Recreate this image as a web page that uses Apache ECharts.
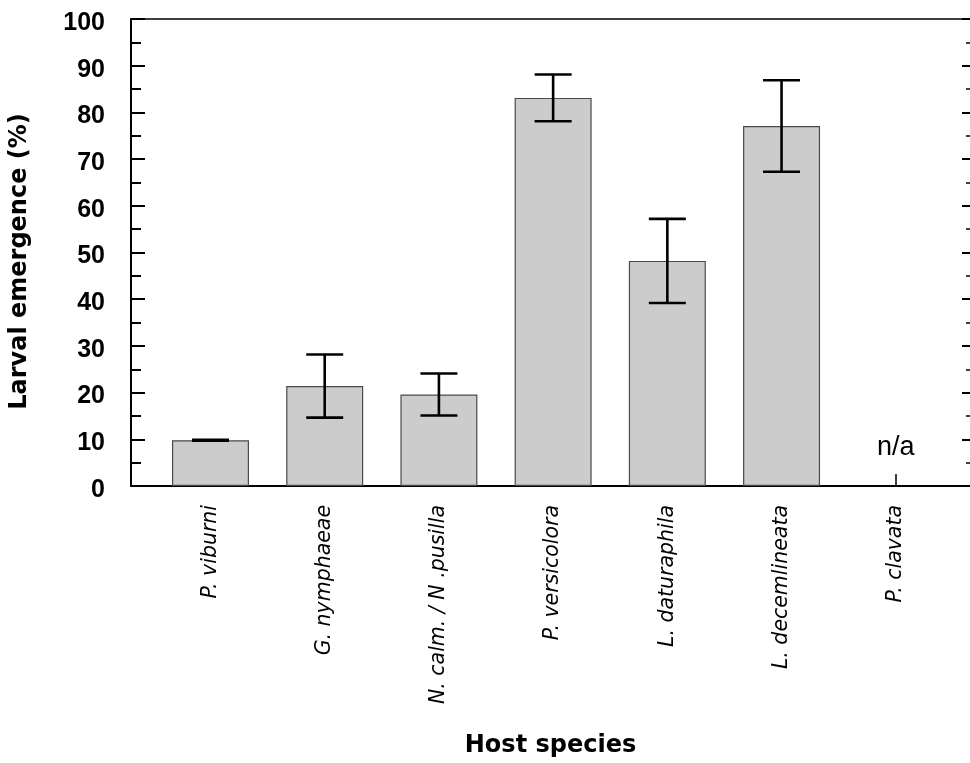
<!DOCTYPE html>
<html>
<head>
<meta charset="utf-8">
<title>Larval emergence by host species</title>
<script src="https://cdn.jsdelivr.net/npm/echarts@6/dist/echarts.min.js"></script>
<style>
  html, body { margin: 0; padding: 0; background: #ffffff; }
  #chart { width: 970px; height: 763px; }
</style>
</head>
<body>
<div id="chart"></div>
<script>
// Host species on the x axis (index = position)
const species = [
  'P. viburni',
  'G. nymphaeae',
  'N. calm. / N .pusilla',
  'P. versicolora',
  'L. daturaphila',
  'L. decemlineata',
  'P. clavata'
];
// Mean larval emergence (%), null where no data
const emergence = [9.8, 21.4, 19.6, 83.1, 48.2, 77.1, null];
// Standard error of each mean
const stdError = [0.1, 6.75, 4.5, 5.0, 9.0, 9.8, null];
// Label shown for the species without data
const missingLabel = 'n/a';
// Y tick range
const yMin = 0, yMax = 100, yStep = 10;

const idx = species.map((_, i) => i);

const barData = emergence.map((v, i) => {
  if (v === null) {
    return {
      value: [i, 0],
      itemStyle: { borderWidth: 0, color: 'rgba(0,0,0,0)' },
      label: {
        show: true, position: 'top', distance: 25,
        formatter: missingLabel,
        fontFamily: 'Liberation Sans, Arial, sans-serif',
        fontSize: 27, color: '#000'
      }
    };
  }
  return { value: [i, v] };
});

const errData = emergence
  .map((v, i) => v === null ? null : [i, v - stdError[i], v + stdError[i]])
  .filter(d => d !== null);

const chart = echarts.init(document.getElementById('chart'), null, { renderer: 'canvas' });

const xMin = -0.696, xMax = 6.65;

chart.setOption({
  animation: false,
  backgroundColor: '#ffffff',
  grid: { left: 128, top: 19, right: -2, bottom: 276, containLabel: false },
  xAxis: [
    {
      type: 'value', position: 'bottom', min: xMin, max: xMax,
      splitLine: { show: false },
      axisLine: { show: true, onZero: false, lineStyle: { color: '#000', width: 2 } },
      axisTick: { show: true, inside: true, length: 12, customValues: [6],
                  lineStyle: { color: '#000', width: 1.5 } },
      axisLabel: {
        show: true, customValues: idx, rotate: 90, margin: 19,
        formatter: v => species[Math.round(v)],
        fontFamily: 'DejaVu Sans, sans-serif', fontStyle: 'italic',
        fontSize: 20.5, color: '#000'
      },
      name: 'Host species', nameLocation: 'middle', nameGap: 248,
      nameTextStyle: { fontFamily: 'DejaVu Sans, sans-serif', fontWeight: 'bold',
                       fontSize: 24, color: '#000' }
    },
    {
      type: 'value', position: 'top', min: xMin, max: xMax,
      splitLine: { show: false },
      axisLine: { show: true, onZero: false, lineStyle: { color: '#000', width: 1.5 } },
      axisTick: { show: false }, axisLabel: { show: false }
    }
  ],
  yAxis: [
    {
      type: 'value', position: 'left', min: yMin, max: yMax, interval: yStep,
      splitLine: { show: false },
      axisLine: { show: true, onZero: false, lineStyle: { color: '#000', width: 2 } },
      axisTick: { show: true, inside: true, length: 14, lineStyle: { color: '#000', width: 2 } },
      minorTick: { show: true, splitNumber: 2, length: 10, lineStyle: { color: '#000', width: 2 } },
      minorSplitLine: { show: false },
      axisLabel: {
        margin: 26, verticalAlign: 'top', lineHeight: 8,
        fontFamily: 'Liberation Sans, Arial, sans-serif', fontWeight: 'bold',
        fontSize: 25, color: '#000'
      },
      name: 'Larval emergence (%)', nameLocation: 'middle', nameGap: 99, nameRotate: 90,
      nameTextStyle: { fontFamily: 'DejaVu Sans, sans-serif', fontWeight: 'bold',
                       fontSize: 24, color: '#000', padding: [0, 18, 0, 0] }
    },
    {
      type: 'value', position: 'right', min: yMin, max: yMax, interval: yStep,
      splitLine: { show: false },
      axisLine: { show: false, onZero: false },
      axisTick: { show: true, inside: true, length: 8, lineStyle: { color: '#000', width: 2 } },
      minorTick: { show: true, splitNumber: 2, length: 4, lineStyle: { color: '#000', width: 1.5 } },
      axisLabel: { show: false }
    }
  ],
  series: [
    {
      type: 'bar', xAxisIndex: 0, yAxisIndex: 0,
      barWidth: 77,
      itemStyle: { color: '#cccccc', borderColor: '#4a4a4a', borderWidth: 1.2 },
      data: barData,
      z: 2
    },
    {
      type: 'custom', xAxisIndex: 0, yAxisIndex: 0,
      data: errData,
      z: 3,
      renderItem: function (params, api) {
        const x = api.value(0);
        const lo = api.coord([x, api.value(1)]);
        const hi = api.coord([x, api.value(2)]);
        const hw = 18.5;
        const st = { stroke: '#000', lineWidth: 2.6 };
        return {
          type: 'group',
          children: [
            { type: 'line', shape: { x1: hi[0], y1: hi[1], x2: lo[0], y2: lo[1] }, style: st },
            { type: 'line', shape: { x1: hi[0] - hw, y1: hi[1], x2: hi[0] + hw, y2: hi[1] }, style: st },
            { type: 'line', shape: { x1: lo[0] - hw, y1: lo[1], x2: lo[0] + hw, y2: lo[1] }, style: st }
          ]
        };
      }
    }
  ]
});
</script>
</body>
</html>
